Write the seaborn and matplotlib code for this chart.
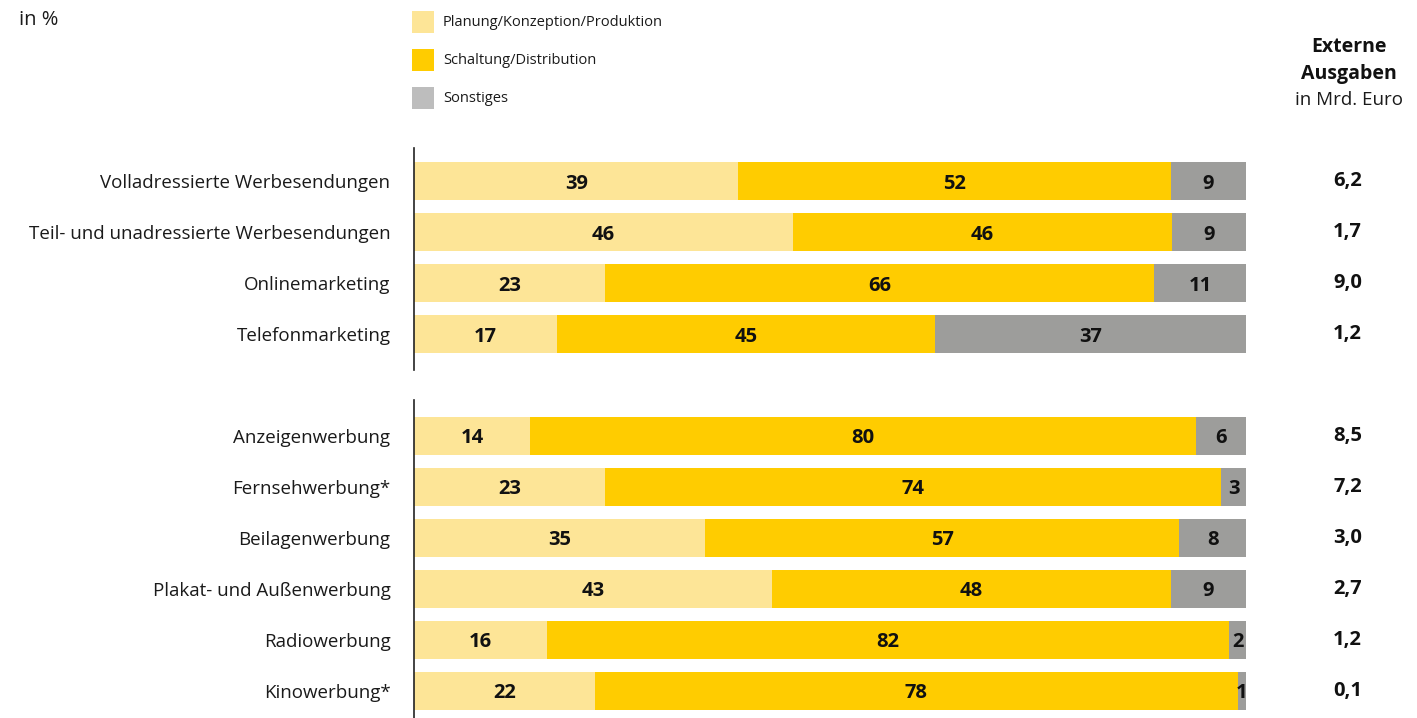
import numpy as np
import pandas as pd
import matplotlib
matplotlib.use("Agg")
import matplotlib.pyplot as plt
from matplotlib.patches import Rectangle
import seaborn as sns

# ---- data ----
cats_a = ["Volladressierte Werbesendungen", "Teil- und unadressierte Werbesendungen",
          "Onlinemarketing", "Telefonmarketing"]
plan_a = [39, 46, 23, 17]
schalt_a = [52, 46, 66, 45]
sonst_a = [9, 9, 11, 37]
ausg_a = ["6,2", "1,7", "9,0", "1,2"]

cats_b = ["Anzeigenwerbung", "Fernsehwerbung*", "Beilagenwerbung",
          "Plakat- und Außenwerbung", "Radiowerbung", "Kinowerbung*"]
plan_b = [14, 23, 35, 43, 16, 22]
schalt_b = [80, 74, 57, 48, 82, 78]
sonst_b = [6, 3, 8, 9, 2, 1]
ausg_b = ["8,5", "7,2", "3,0", "2,7", "1,2", "0,1"]

series_names = ["Planung/Konzeption/Produktion", "Schaltung/Distribution", "Sonstiges"]

# ---- style ----
sns.set_theme(style="white")
plt.rcParams["font.family"] = ["Open Sans", "DejaVu Sans"]
C_PLAN = "#FDE597"
C_SCHALT = "#FFCC00"
C_SONST = "#9D9D9B"
C_SONST_LEG = "#BDBDBD"

W, H = 1417, 718
fig = plt.figure(figsize=(W / 100, H / 100), dpi=100)

def fx(px):
    return px / W

def fy(py):
    return 1 - py / H

x0, x1 = 414, 1246

def draw_group(ax, cats, plan, schalt, sonst, ausg, pad_top, pad_bot):
    df = pd.DataFrame({"cat": cats, "plan": plan, "schalt": schalt, "sonst": sonst})
    tot = df["plan"] + df["schalt"] + df["sonst"]
    scale = 100 / tot
    df["c1"] = df["plan"] * scale
    df["c2"] = (df["plan"] + df["schalt"]) * scale
    df["c3"] = tot * scale
    kw = dict(data=df, y="cat", orient="h", ax=ax, width=0.75, linewidth=0, saturation=1)
    sns.barplot(x="c3", color=C_SONST, **kw)
    sns.barplot(x="c2", color=C_SCHALT, **kw)
    sns.barplot(x="c1", color=C_PLAN, **kw)
    n = len(cats)
    ax.set_xlim(0, 100)
    ax.set_ylim(n - 1 + pad_bot, -pad_top)
    ax.set_xlabel("")
    ax.set_ylabel("")
    ax.set_xticks([])
    for s in ["top", "right", "bottom"]:
        ax.spines[s].set_visible(False)
    ax.spines["left"].set_color("#222222")
    ax.spines["left"].set_linewidth(1.2)
    ax.tick_params(axis="y", length=0, pad=17, labelsize=13.5, labelcolor="#1a1a1a")
    for i in range(n):
        starts = [0, df["c1"][i], df["c2"][i]]
        ends = [df["c1"][i], df["c2"][i], df["c3"][i]]
        vals = [plan[i], schalt[i], sonst[i]]
        for s, e, v in zip(starts, ends, vals):
            ax.text((s + e) / 2, i + 0.05, str(v), ha="center", va="center",
                    fontsize=14.5, fontweight="bold", color="#111111")
        ax.text(112.2, i + 0.0, ausg[i], ha="center", va="center",
                fontsize=14.5, fontweight="bold", color="#111111", clip_on=False)

ax1 = fig.add_axes([fx(x0), fy(370), fx(x1 - x0), (370 - 148) / H])
draw_group(ax1, cats_a, plan_a, schalt_a, sonst_a, ausg_a, 0.65, 0.7)
ax2 = fig.add_axes([fx(x0), fy(718), fx(x1 - x0), (718 - 400) / H])
draw_group(ax2, cats_b, plan_b, schalt_b, sonst_b, ausg_b, 0.7, 0.53)

# ---- header texts ----
fig.text(fx(19), fy(20), "in %", ha="left", va="center", fontsize=14.5, color="#1a1a1a")
fig.text(fx(1349), fy(47), "Externe", ha="center", va="center", fontsize=14,
         fontweight="bold", color="#111111")
fig.text(fx(1349), fy(74), "Ausgaben", ha="center", va="center", fontsize=14,
         fontweight="bold", color="#111111")
fig.text(fx(1349), fy(100), "in Mrd. Euro", ha="center", va="center", fontsize=13.5,
         color="#1a1a1a")

# ---- legend ----
leg_colors = [C_PLAN, C_SCHALT, C_SONST_LEG]
leg_y = [22, 60, 98]
for name, col, yc in zip(series_names, leg_colors, leg_y):
    fig.patches.append(Rectangle((fx(412), fy(yc + 11)), fx(22), 22 / H,
                                 transform=fig.transFigure, facecolor=col,
                                 edgecolor="none"))
    fig.text(fx(443), fy(yc), name, ha="left", va="center", fontsize=10.5,
             color="#1a1a1a")

fig.savefig("out.png", dpi=100)
